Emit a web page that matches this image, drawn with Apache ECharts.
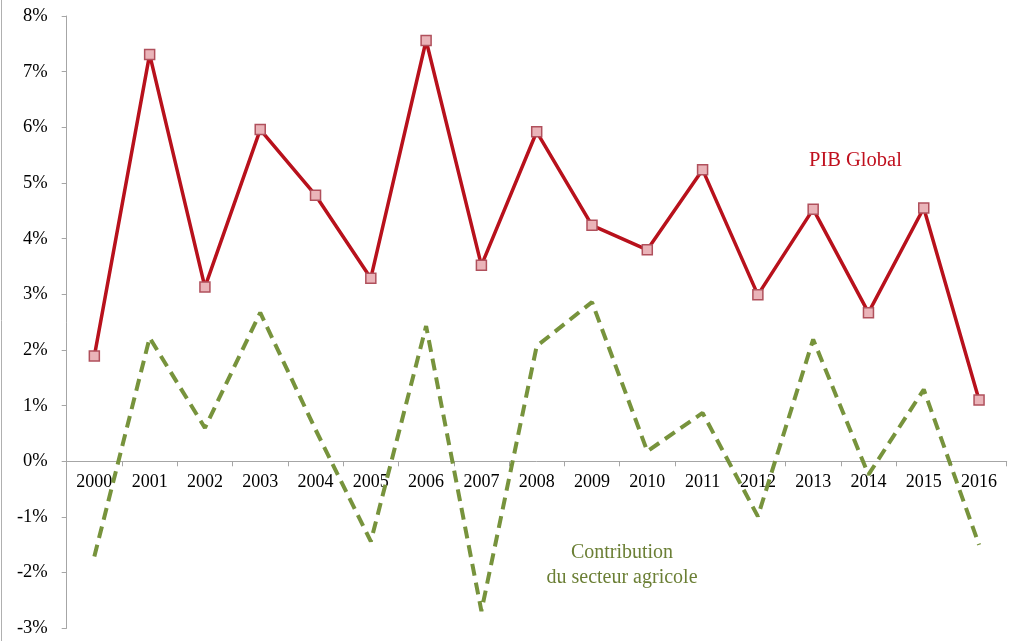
<!DOCTYPE html>
<html>
<head>
<meta charset="utf-8">
<script src="https://cdn.jsdelivr.net/npm/echarts@6/dist/echarts.min.js"></script>
<style>
html,body{margin:0;padding:0;background:#fff;}
#c{width:1009px;height:641px;}
</style>
</head>
<body>
<div id="c"></div>
<script>
var years = ['2000','2001','2002','2003','2004','2005','2006','2007','2008','2009','2010','2011','2012','2013','2014','2015','2016'];
var pibGlobal = [1.89, 7.31, 3.13, 5.96, 4.78, 3.29, 7.56, 3.52, 5.92, 4.24, 3.80, 5.24, 2.99, 4.53, 2.67, 4.55, 1.10];
var agriContribution = [-1.71, 2.22, 0.60, 2.67, 0.57, -1.44, 2.43, -2.69, 2.07, 2.86, 0.18, 0.87, -0.99, 2.19, -0.24, 1.29, -1.50];
var yTicks = { min: -3, max: 8, interval: 1 };

var gridTop = 16, gridBottom = 12.7, H = 641;
var plotH = H - gridTop - gridBottom;
// distance from bottom of plot to the zero line, derived from the y scale
var zeroOffset = plotH * (0 - yTicks.min) / (yTicks.max - yTicks.min);

var chart = echarts.init(document.getElementById('c'));
var font = '"Liberation Serif", "Times New Roman", serif';
chart.setOption({
  animation: false,
  backgroundColor: '#fff',
  grid: { left: 66.7, right: 2.3, top: gridTop, bottom: gridBottom, containLabel: false, outerBoundsMode: 'none' },
  xAxis: {
    type: 'category',
    data: years,
    boundaryGap: true,
    position: 'bottom',
    offset: -zeroOffset,
    axisLine: { onZero: false, lineStyle: { color: '#a6a6a6', width: 1 } },
    axisTick: { show: true, alignWithLabel: false, length: 5, lineStyle: { color: '#a6a6a6' } },
    axisLabel: { color: '#000', fontFamily: font, fontSize: 18, margin: 12 },
    splitLine: { show: false }
  },
  yAxis: {
    type: 'value',
    min: yTicks.min, max: yTicks.max, interval: yTicks.interval,
    axisLine: { show: true, lineStyle: { color: '#a6a6a6', width: 1 } },
    axisTick: { show: true, length: 5, lineStyle: { color: '#a6a6a6' } },
    axisLabel: { color: '#000', fontFamily: font, fontSize: 18.5, margin: 19, formatter: function(v){ return v + '%'; } },
    splitLine: { show: false }
  },
  series: [
    {
      name: 'Contribution du secteur agricole',
      type: 'line',
      data: agriContribution,
      showSymbol: false,
      symbol: 'none',
      lineStyle: { color: '#77933c', width: 4, type: [12, 7] },
      z: 2
    },
    {
      name: 'PIB Global',
      type: 'line',
      data: pibGlobal,
      symbol: 'rect',
      symbolSize: 10,
      itemStyle: { color: '#eab4b9', borderColor: '#b0505c', borderWidth: 1.5 },
      lineStyle: { color: '#b8111c', width: 3.5 },
      z: 3
    }
  ],
  graphic: [
    { type: 'line', shape: { x1: 1.5, y1: 0, x2: 1.5, y2: 641 }, style: { stroke: '#b0b0b0', lineWidth: 1 } },
    { type: 'text', left: 809, top: 150, style: { text: 'PIB Global', fill: '#c0101e', font: '20.5px ' + font } },
    { type: 'text', x: 622, y: 540, style: { text: 'Contribution\ndu secteur agricole', fill: '#6b7f35', font: '20px ' + font, align: 'center', lineHeight: 25 } }
  ]
});
</script>
</body>
</html>
